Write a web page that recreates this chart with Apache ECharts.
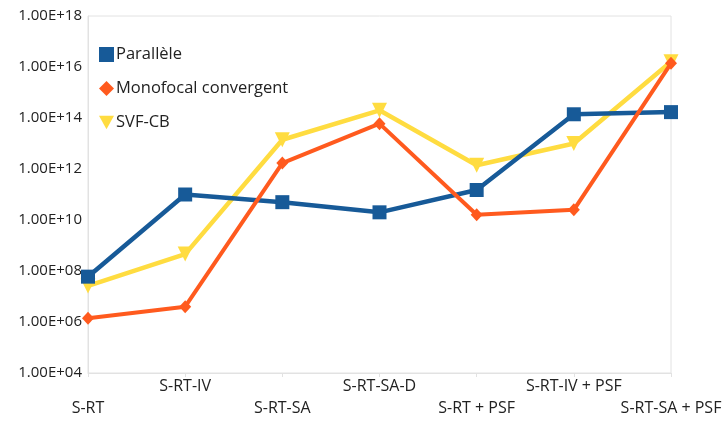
<!DOCTYPE html>
<html>
<head>
<meta charset="utf-8">
<script src="https://cdn.jsdelivr.net/npm/echarts@6/dist/echarts.min.js"></script>
<style>
  html, body { margin: 0; padding: 0; background: #fff; }
  #chart { width: 727px; height: 421px; }
</style>
</head>
<body>
<div id="chart"></div>
<script>
// Scenario names along the horizontal axis
const categories = ['S-RT', 'S-RT-IV', 'S-RT-SA', 'S-RT-SA-D', 'S-RT + PSF', 'S-RT-IV + PSF', 'S-RT-SA + PSF'];

// Values per configuration (log scale)
const parallele = [6e7, 1e11, 5e10, 2e10, 1.5e11, 1.4e14, 1.7e14];
const monofocal = [1.4e6, 4e6, 1.7e12, 6e13, 1.6e10, 2.5e10, 1.4e16];
const svfcb = [2.6e7, 4.6e8, 1.4e13, 2e14, 1.4e12, 1e13, 1.6e16];

const seriesNames = ['Parallèle', 'Monofocal convergent', 'SVF-CB'];

const FONT = '"Open Sans", "Noto Sans", sans-serif';
const TRI_DOWN = 'path://M0,0 L10,0 L5,9 Z';

function sciLabel(v) {
  const e = Math.round(Math.log10(v));
  return '1.00E+' + (e < 10 ? '0' + e : e);
}

const chart = echarts.init(document.getElementById('chart'));
chart.setOption({
  animation: false,
  backgroundColor: '#fff',
  grid: { left: 88, right: 56, top: 16, bottom: 48, show: true, borderColor: '#e2e2e2', borderWidth: 1 },
  legend: {
    orient: 'vertical',
    left: 94,
    top: 41,
    itemGap: 17,
    itemWidth: 15,
    itemHeight: 15,
    textStyle: { fontFamily: FONT, fontSize: 16.5, lineHeight: 15, color: '#222', padding: [0, 0, 0, -3] },
    data: [
      { name: seriesNames[0], icon: 'rect' },
      { name: seriesNames[1], icon: 'diamond' },
      { name: seriesNames[2], icon: TRI_DOWN }
    ]
  },
  xAxis: {
    type: 'category',
    data: categories,
    boundaryGap: false,
    axisLine: { lineStyle: { color: '#e2e2e2' } },
    axisTick: { show: true, length: 4, lineStyle: { color: '#e2e2e2' } },
    splitLine: { show: false },
    axisLabel: {
      interval: 0,
      margin: 2,
      fontFamily: FONT,
      fontSize: 16,
      lineHeight: 22,
      color: '#222',
      formatter: function (v, i) { return i % 2 === 0 ? '\n' + v : v; }
    }
  },
  yAxis: {
    type: 'log',
    logBase: 10,
    min: 1e4,
    max: 1e18,
    interval: 2,
    axisLine: { show: true, lineStyle: { color: '#e2e2e2' } },
    axisTick: { show: false },
    splitLine: { show: false },
    minorTick: { show: false },
    axisLabel: {
      margin: 6,
      fontFamily: FONT,
      fontSize: 15,
      color: '#222',
      formatter: sciLabel
    }
  },
  series: [
    {
      name: seriesNames[0],
      type: 'line',
      data: parallele,
      symbol: 'rect',
      symbolSize: 14,
      color: '#175a98',
      lineStyle: { width: 4.5 },
      z: 2
    },
    {
      name: seriesNames[1],
      type: 'line',
      data: monofocal,
      symbol: 'diamond',
      symbolSize: [12, 13],
      color: '#ff5a1e',
      lineStyle: { width: 4 },
      z: 3
    },
    {
      name: seriesNames[2],
      type: 'line',
      data: svfcb,
      symbol: TRI_DOWN,
      symbolSize: 15,
      color: '#ffdc40',
      lineStyle: { width: 4.5 },
      z: 1
    }
  ]
});
</script>
</body>
</html>
